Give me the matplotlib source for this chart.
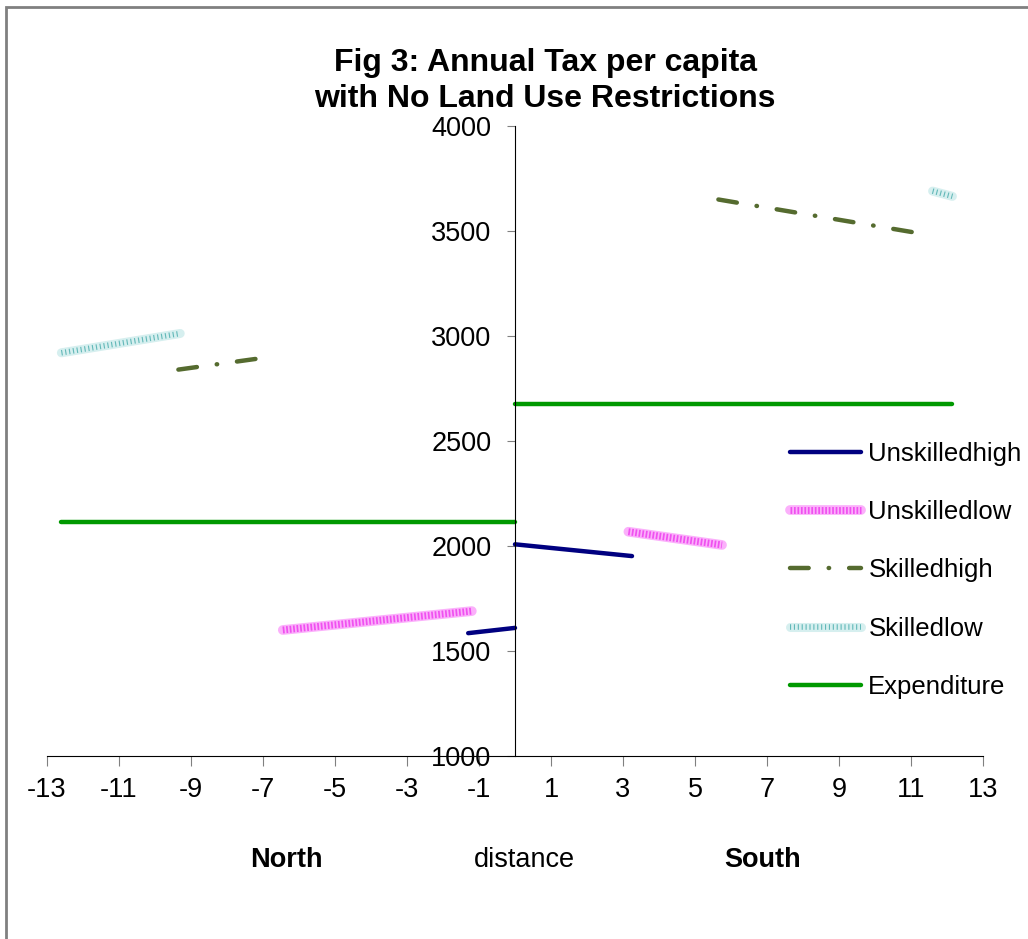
import matplotlib
matplotlib.use('Agg')
import matplotlib.pyplot as plt
from matplotlib.patches import Rectangle
from matplotlib.legend_handler import HandlerTuple

plt.rcParams['font.family'] = ['Liberation Sans', 'DejaVu Sans']
plt.rcParams['axes.unicode_minus'] = False

# Tax per capita by distance from the centre (North < 0 < South)
unsk_high_north_x = [-1.3, 0.0]
unsk_high_north_y = [1585, 1610]
unsk_high_south_x = [0.0, 3.25]
unsk_high_south_y = [2008, 1952]

unsk_low_north_x = [-6.45, -1.2]
unsk_low_north_y = [1600, 1690]
unsk_low_south_x = [3.15, 5.75]
unsk_low_south_y = [2068, 2005]

sk_high_north_x = [-9.35, -6.9]
sk_high_north_y = [2840, 2898]
sk_high_south_x = [5.65, 11.2]
sk_high_south_y = [3650, 3490]

sk_low_north_x = [-12.6, -9.3]
sk_low_north_y = [2920, 3012]
sk_low_south_x = [11.6, 12.15]
sk_low_south_y = [3690, 3665]

exp_north_x = [-12.6, 0.0]
exp_north_y = [2115, 2115]
exp_south_x = [0.0, 12.15]
exp_south_y = [2675, 2675]

xticks = list(range(-13, 14, 2))
yticks = [1000, 1500, 2000, 2500, 3000, 3500, 4000]

fig = plt.figure(figsize=(10.28, 9.39), dpi=100)
ax = fig.add_axes([47 / 1028, 1 - 756 / 939, 936 / 1028, 630 / 939])

# grey frame round the whole chart
fig.patches.append(Rectangle((6 / 1028, -0.05), 1.2, 1 - 7 / 939 + 0.05,
                             transform=fig.transFigure, fill=False,
                             edgecolor='#808080', linewidth=2))

navy = '#000080'
green = '#009900'
olive = '#556b2f'

h1, = ax.plot(unsk_high_north_x, unsk_high_north_y, color=navy, lw=3.2,
              solid_capstyle='round')
ax.plot(unsk_high_south_x, unsk_high_south_y, color=navy, lw=3.2,
        solid_capstyle='round')

# patterned magenta band: light base with a fine checked overlay
ul_base = []
ul_dots = []
for xs, ys in [(unsk_low_north_x, unsk_low_north_y),
               (unsk_low_south_x, unsk_low_south_y)]:
    b, = ax.plot(xs, ys, color='#fbb0fb', lw=7, solid_capstyle='round')
    d, = ax.plot(xs, ys, color='#f050f0', lw=5, linestyle=(0, (0.25, 0.25)))
    ul_base.append(b)
    ul_dots.append(d)

sh_style = (0, (4.2, 4.5, 0.1, 4.5))
h3, = ax.plot(sk_high_north_x, sk_high_north_y, color=olive, lw=3.2,
              linestyle=sh_style, dash_capstyle='round')
ax.plot(sk_high_south_x, sk_high_south_y, color=olive, lw=3.2,
        linestyle=sh_style, dash_capstyle='round')

# patterned teal band
sl_base = []
sl_dots = []
for xs, ys in [(sk_low_north_x, sk_low_north_y),
               (sk_low_south_x, sk_low_south_y)]:
    b, = ax.plot(xs, ys, color='#d6efef', lw=6.5, solid_capstyle='round')
    d, = ax.plot(xs, ys, color='#62b8b8', lw=4, linestyle=(0, (0.2, 0.5)))
    sl_base.append(b)
    sl_dots.append(d)

h5, = ax.plot(exp_north_x, exp_north_y, color=green, lw=3.2,
              solid_capstyle='round')
ax.plot(exp_south_x, exp_south_y, color=green, lw=3.2, solid_capstyle='round')

ax.set_xlim(-13, 13)
ax.set_ylim(1000, 4000)
ax.set_xticks(xticks)
ax.set_yticks(yticks)
ax.spines['left'].set_position(('data', 0))
ax.spines['top'].set_visible(False)
ax.spines['right'].set_visible(False)
ax.tick_params(axis='x', direction='out', length=7, color='#808080',
               labelsize=19.5, pad=8)
ax.tick_params(axis='y', direction='out', length=6, color='#808080',
               labelsize=19.5, pad=11)

leg = ax.legend([h1, (ul_base[0], ul_dots[0]), h3, (sl_base[0], sl_dots[0]), h5],
                ['Unskilledhigh', 'Unskilledlow', 'Skilledhigh', 'Skilledlow',
                 'Expenditure'],
                handler_map={tuple: HandlerTuple(ndivide=1, pad=0)},
                loc='upper left', bbox_to_anchor=(790 / 1028, 1 - 442 / 939),
                bbox_transform=fig.transFigure, frameon=False, fontsize=18.5,
                handlelength=2.75, handletextpad=0.3, labelspacing=1.33,
                borderpad=0, borderaxespad=0)

fig.text(545 / 1028, 1 - 81 / 939,
         'Fig 3: Annual Tax per capita\nwith No Land Use Restrictions',
         ha='center', va='center', fontsize=23, fontweight='bold',
         linespacing=1.22)

fig.text(286 / 1028, 1 - 860 / 939, 'North', ha='center', va='center',
         fontsize=19.5, fontweight='bold')
fig.text(524 / 1028, 1 - 860 / 939, 'distance', ha='center', va='center',
         fontsize=19.5)
fig.text(763 / 1028, 1 - 860 / 939, 'South', ha='center', va='center',
         fontsize=19.5, fontweight='bold')

fig.savefig('out.png', dpi=100)
